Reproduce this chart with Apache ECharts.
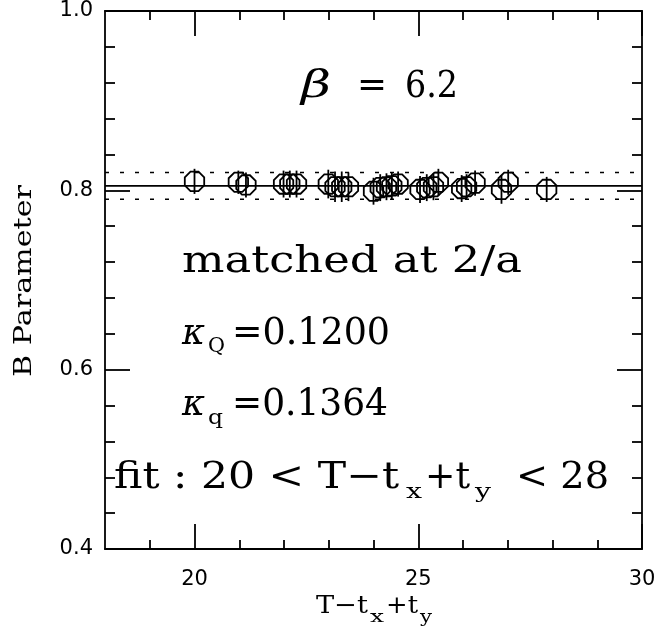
<!DOCTYPE html>
<html><head><meta charset="utf-8">
<script src="https://cdn.jsdelivr.net/npm/echarts@6/dist/echarts.min.js"></script>
<style>html,body{margin:0;padding:0;background:#fff}#c{width:659px;height:639px}</style>
</head><body><div id="c"></div>
<script>
// ---- data ----
const xValues = [20.0, 20.98, 21.15, 21.99, 22.13, 22.28, 22.99, 23.14, 23.29, 23.44, 24.0, 24.15, 24.29, 24.41, 24.55, 25.04, 25.19, 25.34, 25.45, 25.97, 26.08, 26.27, 26.86, 27.01, 27.87];
const bValues = [0.810, 0.809, 0.806, 0.807, 0.807, 0.807, 0.807, 0.804, 0.804, 0.804, 0.799, 0.803, 0.804, 0.805, 0.807, 0.801, 0.803, 0.804, 0.809, 0.802, 0.804, 0.808, 0.801, 0.809, 0.801];
const bErrors = [0.014, 0.013, 0.014, 0.015, 0.015, 0.015, 0.016, 0.017, 0.017, 0.016, 0.015, 0.015, 0.015, 0.015, 0.014, 0.015, 0.015, 0.015, 0.015, 0.015, 0.014, 0.014, 0.016, 0.014, 0.014];
const fitCentre = 0.805;
const fitHalfWidth = 0.015;
const xRange = [18, 30];
const yRange = [0.4, 1.0];
const xMajorTicks = [20, 25, 30];
const xMinorTicks = [19, 21, 22, 23, 24, 26, 27, 28, 29];
const yTickStep = 0.2;

// ---- text helpers ----
const mctx = document.createElement('canvas').getContext('2d');
function piece(text, left, right, baseline, size, opt) {
  opt = opt || {};
  const fam = opt.family || 'DejaVu Serif';
  const font = (opt.italic ? 'italic ' : '') + size + 'px "' + fam + '"';
  mctx.font = font;
  const w = mctx.measureText(text).width || 1;
  return {
    type: 'text', x: left, y: baseline - 0.346 * size, scaleX: (right - left) / w, z: 100,
    style: { text: text, font: font, fill: '#000', align: 'left', verticalAlign: 'middle', textAlign: 'left', textVerticalAlign: 'middle' }
  };
}
const S = 37, s = 20;
const graphics = [
  piece('\u03B2', 301, 331, 100, 38, {italic: true}),
  piece('=', 357, 387, 100, 38),
  piece('6.2', 405, 458, 100, 38),
  piece('matched at 2/a', 182, 522, 275, S),
  piece('\u03BA', 182, 205, 347, S, {italic: true}),
  piece('Q', 208, 225, 354, s),
  piece('=0.1200', 232, 390, 347, S),
  piece('\u03BA', 182, 205, 418, S, {italic: true}),
  piece('q', 208, 223, 426, s),
  piece('=0.1364', 232, 388, 418, S),
  piece('fit : 20 < T\u2212t', 114, 399, 491, S),
  piece('x', 406, 422, 500, s),
  piece('+t', 425, 470, 491, S),
  piece('y', 475, 491, 500, s),
  piece('< 28', 516, 609, 491, S),
  // x axis title
  piece('T\u2212t', 316, 368, 615, 25),
  piece('x', 370, 384, 623, 16),
  piece('+t', 386, 418, 615, 25),
  piece('y', 420, 432, 623, 16)
];
// y axis title (rotated)
(function () {
  const size = 25, text = 'B Parameter';
  const font = size + 'px "DejaVu Serif"';
  mctx.font = font;
  const w = mctx.measureText(text).width;
  graphics.push({
    type: 'text', x: 33 - 0.346 * size, y: 281, rotation: Math.PI / 2, scaleX: 192 / w, z: 100,
    style: { text: text, font: font, fill: '#000', align: 'center', verticalAlign: 'middle', textAlign: 'center', textVerticalAlign: 'middle' }
  });
})();

const black = '#000';
const lineW = 1.8;
function xAxisDef(pos, ticks, len, withLabels, withLine) {
  return {
    type: 'value', position: pos, min: xRange[0], max: xRange[1],
    axisLine: { show: withLine, onZero: false, lineStyle: { color: black, width: lineW } },
    axisTick: { show: true, inside: true, length: len, customValues: ticks, lineStyle: { color: black, width: lineW } },
    axisLabel: withLabels ? { show: true, customValues: xMajorTicks, margin: 20, color: black, fontSize: 21, fontFamily: 'DejaVu Sans', formatter: v => String(v) } : { show: false },
    splitLine: { show: false }, minorTick: { show: false }
  };
}
function yAxisDef(pos, withLabels) {
  return {
    type: 'value', position: pos, min: yRange[0], max: yRange[1], interval: yTickStep,
    axisLine: { show: true, onZero: false, lineStyle: { color: black, width: lineW } },
    axisTick: { show: true, inside: true, length: 25, lineStyle: { color: black, width: lineW } },
    minorTick: { show: true, splitNumber: 5, length: 10, lineStyle: { color: black, width: lineW } },
    axisLabel: withLabels ? { show: true, margin: 12, color: black, fontSize: 21, fontFamily: 'DejaVu Sans', formatter: v => v.toFixed(1) } : { show: false },
    splitLine: { show: false }, minorSplitLine: { show: false }
  };
}

const chart = echarts.init(document.getElementById('c'), null, { renderer: 'canvas' });
chart.setOption({
  animation: false,
  backgroundColor: '#fff',
  grid: { left: 105, right: 17, top: 11, bottom: 90, containLabel: false, outerBoundsMode: 'none' },
  xAxis: [
    xAxisDef('bottom', xMinorTicks, 9, true, true),
    xAxisDef('bottom', xMajorTicks, 25, false, false),
    xAxisDef('top', xMinorTicks, 9, false, true),
    xAxisDef('top', xMajorTicks, 25, false, false)
  ],
  yAxis: [yAxisDef('left', true), yAxisDef('right', false)],
  graphic: { elements: graphics },
  series: [
    { type: 'line', data: [[xRange[0], fitCentre], [xRange[1], fitCentre]], symbol: 'none', lineStyle: { color: black, width: 1.8 }, silent: true },
    { type: 'line', data: [[xRange[0], fitCentre + fitHalfWidth], [xRange[1], fitCentre + fitHalfWidth]], symbol: 'none', lineStyle: { color: black, width: 1.5, type: [4, 11] }, silent: true },
    { type: 'line', data: [[xRange[0], fitCentre - fitHalfWidth], [xRange[1], fitCentre - fitHalfWidth]], symbol: 'none', lineStyle: { color: black, width: 1.5, type: [4, 11] }, silent: true },
    {
      type: 'custom', silent: true,
      data: xValues.map((x, i) => [x, bValues[i], bErrors[i]]),
      encode: { x: 0, y: 1 },
      renderItem: function (params, api) {
        const x = api.value(0), y = api.value(1), e = api.value(2);
        const c = api.coord([x, y]);
        const hi = api.coord([x, y + e]);
        const lo = api.coord([x, y - e]);
        const r = 10.5, pts = [];
        for (let k = 0; k < 8; k++) {
          const a = Math.PI / 8 + k * Math.PI / 4;
          pts.push([c[0] + r * Math.cos(a), c[1] + r * Math.sin(a)]);
        }
        return {
          type: 'group', children: [
            { type: 'polygon', shape: { points: pts }, style: { fill: 'none', stroke: black, lineWidth: 1.8 } },
            { type: 'line', shape: { x1: c[0], y1: hi[1], x2: c[0], y2: lo[1] }, style: { stroke: black, lineWidth: 1.8 } }
          ]
        };
      }
    }
  ]
});
</script></body></html>
